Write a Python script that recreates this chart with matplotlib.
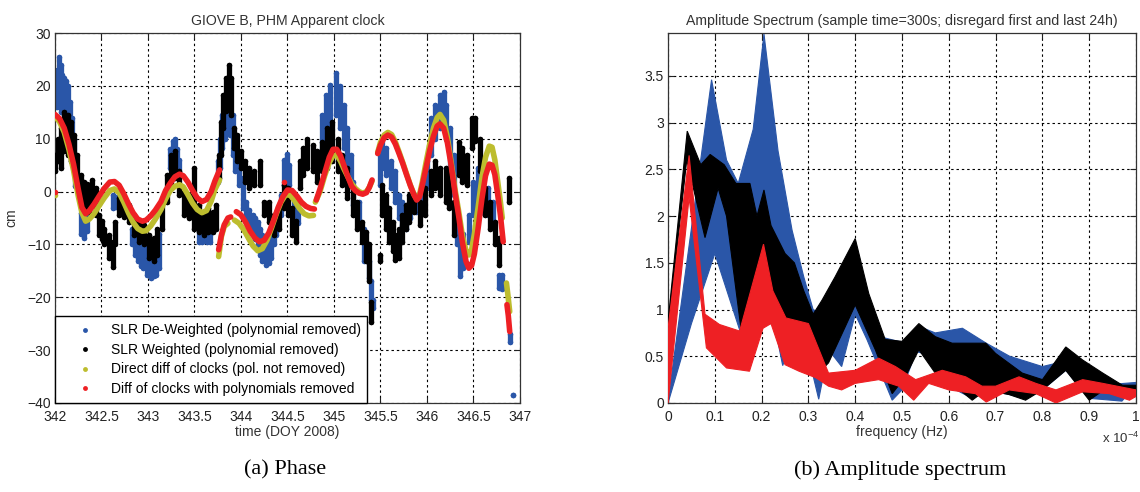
import numpy as np
import matplotlib
matplotlib.use("Agg")
import matplotlib.pyplot as plt
from matplotlib.lines import Line2D

plt.rcParams['font.family'] = ['Liberation Sans', 'DejaVu Sans']
plt.rcParams['mathtext.fontset'] = 'custom'
plt.rcParams['mathtext.rm'] = 'Liberation Sans'
plt.rcParams['mathtext.default'] = 'regular'

# ---------------- Phase: apparent clock of GIOVE-B (cm vs DOY 2008) ----------------
# SLR de-weighted residuals: (day, low, high) of the point cloud
slr_deweighted = [
    (342.00, 16, 21), (342.02, 16, 23), (342.04, 17, 25.5), (342.06, 15, 24), (342.08, 15, 22),
    (342.10, 14, 21.5), (342.12, 15, 21), (342.14, 12, 20), (342.16, 10, 17), (342.18, 7, 14),
    (342.20, 4, 10), (342.22, 1, 6), (342.28, -8, -4), (342.31, -8.8, -4), (342.34, -7.5, -4.5),
    (342.62, -3.2, -0.6), (342.66, -3, -1), (342.70, -3.2, -1), (342.74, -3.2, -1.2),
    (342.83, -10, -7), (342.86, -12, -7.5), (342.89, -13.2, -8.2), (342.92, -14, -9),
    (342.95, -14.5, -9.5), (342.99, -15.8, -10.7), (343.03, -16.4, -13.2), (343.06, -16, -12.5),
    (343.09, -15.8, -12.6), (343.12, -14.5, -8), (343.24, 4.4, 8), (343.27, 4.4, 9.5),
    (343.29, 5, 10), (343.31, 4.4, 8), (343.33, 3.5, 6), (343.55, -9.5, -4.4), (343.58, -9.5, -5),
    (343.61, -9, -5), (343.64, -9.5, -6), (343.67, -9.5, -7), (343.75, 1.9, 5.7), (343.775, 4.4, 10),
    (343.80, 8.2, 14.5), (343.83, 10, 18.3), (343.86, 12, 19.5), (343.88, 10.7, 18.3),
    (343.91, 6.9, 14.5), (343.94, 3.8, 10), (343.975, 1.3, 5.7), (344.02, -3.2, 2.5),
    (344.05, -5.7, -1.9), (344.09, -6.5, -3.5), (344.125, -7.6, -4.4), (344.15, -9, -5),
    (344.18, -10.7, -5.7), (344.21, -12, -7), (344.23, -13.2, -8.2), (344.27, -13.9, -10),
    (344.30, -13.5, -9), (344.32, -12.6, -7), (344.35, -10, -5.5), (344.375, -8.2, -4.4),
    (344.43, -4.4, -0.6), (344.46, 1.3, 6), (344.49, 1.5, 7.2), (344.52, 1.3, 5),
    (344.57, -5.7, -1), (344.61, -6, -2), (344.875, 6.9, 14.5), (344.91, 9.4, 18.3),
    (344.96, 12, 20.2), (345.02, 14.5, 22.4), (345.07, 12, 20), (345.11, 8.2, 16.4),
    (345.14, 4.4, 12), (345.18, 1.3, 6.9), (345.21, -2.5, 1.9), (345.27, -5.7, -1.9),
    (345.32, -13.2, -7), (345.36, -13, -10), (345.38, -16.4, -13.2), (345.40, -20.5, -17),
    (345.42, -22, -20.5), (345.49, 1.3, 6.9), (345.52, 4.4, 10), (345.56, 3.2, 8.2),
    (345.61, 0.6, 5.7), (345.66, -1.9, 3.8), (345.70, -5, -0.6), (345.73, -6.3, -1.9),
    (345.77, -7, -3.2), (345.82, -5, -1.3), (345.88, -3.8, -0.6), (345.95, -3.5, 0.6),
    (346.00, 0.6, 5.7), (346.04, 6.9, 13.9), (346.09, 10, 16.4), (346.14, 12, 18.3),
    (346.18, 12.6, 18.9), (346.21, 10, 16.4), (346.25, 4.4, 12), (346.29, -0.6, 6.9),
    (346.32, -10, -4.4), (346.36, -16, -9.5), (346.39, -14.5, -8), (346.45, -9.5, -4.4),
    (346.50, -4.4, 1.9), (346.55, -1.9, 4.4), (346.61, -4, 0.6), (346.66, -4.4, 0.6),
    (346.71, -6, -2), (346.77, -18.3, -15.8), (346.81, -18.5, -15.8), (346.89, -28.4, -27),
    (346.93, -38.4, -38.4),
]

# SLR weighted residuals: (day, low, high)
slr_weighted = [
    (342.00, 3.8, 6.9), (342.03, 5.7, 10), (342.06, 4.4, 12), (342.10, 7.6, 15), (342.14, 6.9, 14.5),
    (342.17, 5.7, 13.2), (342.21, 3.8, 10.7), (342.24, 0.6, 6.9), (342.28, -2.5, 3.2),
    (342.31, -3.2, 1.9), (342.34, -3, 1.5), (342.37, -3.8, 1.2), (342.40, -1.9, 2.2),
    (342.44, -4.4, 0.6), (342.475, -8.2, -4.4), (342.51, -9, -5.5), (342.53, -10, -7),
    (342.58, -12.6, -8.2), (342.62, -14.2, -9.5), (342.65, -10, -5.7), (342.69, -4.4, -1.3),
    (342.74, -4.8, -1.9), (342.80, -5.7, -2.5), (342.85, -8.2, -4.4), (342.90, -9.5, -5.7),
    (342.96, -10, -6.3), (343.01, -12.6, -8.2), (343.06, -13.2, -8.8), (343.10, -12, -7),
    (343.15, -7, -1.9), (343.21, -1.9, 3.2), (343.25, 1.3, 6.9), (343.29, 2.5, 7.6),
    (343.33, -0.6, 3.8), (343.39, -4.4, 0), (343.44, -5, -0.6), (343.49, -7, 4.4),
    (343.55, -7.6, -2.5), (343.60, -8.2, -3.8), (343.65, -7.6, -3.2), (343.70, -7.6, -3.8),
    (343.73, -7, -2.5), (343.76, 2.5, 6.9), (343.79, 6.9, 13.2), (343.81, 12, 18.3),
    (343.84, 15.2, 21.4), (343.87, 18.3, 23.9), (343.89, 14.5, 21.4), (343.93, 8.2, 12),
    (343.96, 5.7, 10.7), (344.00, 4.4, 7.6), (344.04, 1.9, 5.7), (344.09, 0.6, 4.4),
    (344.14, 1.3, 3.8), (344.20, 1.3, 5.7), (344.25, -4.4, -1.9), (344.30, -5.7, -1.9),
    (344.36, -8.2, -4.4), (344.41, -7, -3.2), (344.46, -3.2, 1.3), (344.51, -4.4, 0.6),
    (344.55, -8.2, -3.2), (344.59, -9.5, -5.5), (344.63, 0.6, 5.7), (344.67, 3.2, 8.2),
    (344.71, 4.4, 10), (344.77, 3.8, 8.8), (344.82, 1.9, 7.6), (344.875, 3.8, 9.4),
    (344.93, 4.4, 12), (344.98, 5.7, 13.2), (345.04, 3.8, 10), (345.09, 1.3, 6.9),
    (345.14, -1.2, 4.4), (345.20, -4.4, 0.6), (345.25, -7, -1.9), (345.30, -9.5, -5.7),
    (345.34, -13.2, -7.6), (345.38, -17, -10), (345.40, -24.6, -20.8), (345.49, -13.2, -12),
    (345.52, -4.4, 1.3), (345.56, -7, -0.6), (345.59, -9.5, -3.2), (345.63, -11.3, -5.7),
    (345.66, -12.9, -8.2), (345.70, -12.6, -7), (345.73, -9.5, -4.4), (345.77, -7, -2.5),
    (345.81, -5.7, -0.6), (345.86, -3.8, -0.6), (345.93, -6.3, -1.9), (345.98, -4.4, 0.6),
    (346.04, -0.6, 3.8), (346.09, 0.6, 5.7), (346.14, -0.6, 4.4), (346.20, -1.9, 4.4),
    (346.24, -3.2, 3.8), (346.29, -8.2, -1.9), (346.34, 3.2, 9.4), (346.38, 1.9, 8.2),
    (346.43, 1.3, 6.9), (346.48, 8.2, 13.9), (346.52, 9.5, 13.9), (346.57, 3.8, 10),
    (346.62, -4.4, 0.6), (346.68, -7, -1.9), (346.73, -10, -5.7), (346.78, -13.9, -8.8),
    (346.88, -1.9, 2.5),
]

nan = np.nan
# Direct difference of clocks (polynomial not removed); nan separates data gaps
direct_day = [342.00, 342.05, 342.10, 342.15, 342.20, 342.25, 342.29, 342.33, 342.37, 342.42,
              342.47, 342.53, 342.59, 342.64, 342.69, 342.74, 342.79, 342.84, 342.89, 342.94,
              342.98, 343.03, 343.08, 343.14, 343.19, 343.24, 343.29, 343.34, 343.38, 343.43,
              343.48, 343.53, 343.58, 343.63, 343.68, 343.72, 343.77, nan,
              343.76, 343.79, 343.82, 343.86, nan,
              343.93, 343.98, 344.03, 344.08, 344.13, 344.18, 344.23, 344.28, 344.33, 344.38,
              344.43, 344.48, 344.53, 344.58, 344.63, 344.68, 344.73, 344.78, nan,
              344.80, 344.85, 344.90, 344.95, 344.99, 345.03, 345.07, 345.11, 345.15, 345.19,
              345.23, 345.27, 345.31, 345.35, 345.38, 345.41, nan,
              345.47, 345.50, 345.54, 345.58, 345.62, 345.66, 345.70, 345.74, 345.78, 345.82,
              345.86, 345.89, 345.92, 345.95, 345.99, 346.03, 346.07, 346.11, 346.14, 346.18,
              346.22, 346.26, 346.30, 346.34, 346.38, 346.42, 346.45, 346.48, 346.51, 346.55,
              346.59, 346.63, 346.67, 346.70, 346.73, 346.76, 346.79, 346.81, nan,
              346.855, 346.87, 346.89]
direct_cm = [14.2, 13.2, 11.2, 8.0, 4.0, -0.8, -4.0, -5.6, -5.2, -4.2,
             -2.8, -1.2, 0.2, 0.5, -0.2, -2.0, -4.0, -5.8, -7.0, -7.5,
             -7.4, -6.5, -5.2, -3.4, -1.4, 0.2, 1.0, 1.3, 0.9, -0.6,
             -2.2, -3.4, -4.0, -3.6, -1.8, 0.4, 2.2, nan,
             -12.3, -8.5, -6.6, -6.0, nan,
             -5.4, -6.0, -7.2, -8.8, -10.3, -11.2, -10.8, -9.2, -6.8, -4.2,
             -2.0, -0.6, -0.7, -1.8, -3.2, -4.2, -4.6, -4.5, nan,
             -2.0, 0.0, 3.0, 5.5, 6.8, 6.9, 5.8, 4.2, 2.8, 1.5,
             0.6, 0.0, -0.3, 0.0, 0.8, 2.0, nan,
             7.4, 9.3, 10.7, 11.2, 10.8, 9.4, 7.5, 5.5, 3.4, 1.3,
             -0.5, -1.4, -0.6, 1.8, 5.5, 9.0, 12.0, 14.0, 14.6, 13.5,
             10.2, 5.6, 0.6, -3.6, -8.2, -11.2, -12.0, -11.0, -8.0, -3.0,
             2.5, 6.5, 8.6, 8.4, 6.0, 2.0, -2.0, -5.0, nan,
             -17.3, -19.5, -22.7]

# Difference of clocks with polynomials removed
poly_day = [342.00, 342.05, 342.10, 342.15, 342.20, 342.25, 342.29, 342.33, 342.37, 342.42,
            342.47, 342.53, 342.59, 342.64, 342.69, 342.74, 342.79, 342.84, 342.89, 342.94,
            342.98, 343.03, 343.08, 343.14, 343.19, 343.24, 343.29, 343.34, 343.38, 343.43,
            343.48, 343.53, 343.58, 343.63, 343.68, 343.72, 343.77, nan,
            343.76, 343.79, 343.82, 343.86, 343.89, nan,
            343.95, 344.00, 344.05, 344.10, 344.15, 344.20, 344.25, 344.30, 344.35, 344.40,
            344.45, 344.50, 344.55, 344.60, 344.65, 344.70, 344.75, 344.79, nan,
            344.81, 344.85, 344.90, 344.95, 344.99, 345.03, 345.07, 345.11, 345.15, 345.19,
            345.23, 345.27, 345.31, 345.35, 345.38, 345.41, nan,
            345.47, 345.50, 345.54, 345.58, 345.62, 345.66, 345.70, 345.74, 345.78, 345.82,
            345.86, 345.89, 345.92, 345.95, 345.99, 346.03, 346.07, 346.11, 346.14, 346.18,
            346.22, 346.26, 346.30, 346.34, 346.38, 346.42, 346.45, 346.48, 346.51, 346.55,
            346.59, 346.63, 346.67, 346.70, 346.73, 346.76, 346.79, 346.82, nan,
            346.86, 346.875, 346.89]
poly_cm = [14.6, 13.8, 12.0, 9.0, 5.2, 0.5, -3.0, -4.2, -3.6, -2.4,
           -1.0, 0.6, 1.8, 1.9, 1.2, -0.4, -2.3, -4.0, -5.2, -5.6,
           -5.4, -4.6, -3.5, -1.9, 0.2, 1.6, 2.8, 3.3, 3.0, 1.8,
           0.2, -1.2, -1.9, -1.5, 0.0, 2.0, 4.1, nan,
           -11.0, -8.2, -6.3, -5.0, -4.8, nan,
           -3.8, -4.4, -5.8, -7.5, -8.8, -9.5, -9.2, -7.8, -5.5, -3.0,
           -1.0, 0.3, 0.2, -0.8, -2.0, -2.8, -3.2, -3.3, nan,
           -1.6, 0.5, 3.5, 6.5, 8.0, 8.0, 6.8, 4.8, 2.8, 1.0,
           0.2, -0.3, -0.5, -0.2, 0.8, 2.2, nan,
           7.2, 8.8, 10.2, 10.7, 10.3, 9.0, 7.2, 5.3, 3.2, 1.2,
           -0.6, -1.6, -1.0, 1.2, 4.5, 7.8, 10.5, 12.4, 12.8, 12.0,
           9.2, 5.0, 0.0, -4.5, -9.5, -13.2, -14.5, -14.0, -11.8, -7.0,
           -1.5, 3.0, 5.2, 5.0, 3.2, -0.5, -4.5, -9.5, nan,
           -21.4, -23.5, -26.5]

# single isolated samples
direct_single = [(342.00, -0.6)]
poly_single = [(342.00, 0.0), (344.46, 1.9)]

legend_labels = ["SLR De-Weighted (polynomial removed)",
                 "SLR Weighted (polynomial removed)",
                 "Direct diff of clocks (pol. not removed)",
                 "Diff of clocks with polynomials removed"]

# ---------------- Amplitude spectrum bands (frequency in 1e-4 Hz) ----------------
blue_upper = [(0, 0.02), (0.093, 3.46), (0.125, 2.6), (0.15, 2.35), (0.182, 2.93), (0.205, 3.95),
              (0.235, 2.7), (0.265, 1.85), (0.29, 1.35), (0.31, 1.0), (0.33, 0.95), (0.35, 1.28),
              (0.375, 1.46), (0.4, 1.7), (0.43, 1.1), (0.46, 0.7), (0.5, 0.65), (0.536, 0.82),
              (0.571, 0.75), (0.629, 0.8), (0.68, 0.64), (0.73, 0.5), (0.8, 0.39), (0.85, 0.45),
              (0.9, 0.3), (0.95, 0.2), (1.0, 0.22)]
blue_lower = [(0, 0.0), (0.05, 0.85), (0.1, 1.6), (0.157, 0.72), (0.2, 1.7), (0.225, 0.9),
              (0.245, 0.4), (0.27, 0.75), (0.3, 0.5), (0.322, 0.04), (0.343, 0.57), (0.371, 0.39),
              (0.4, 0.95), (0.425, 0.68), (0.479, 0.03), (0.5, 0.14), (0.53, 0.55), (0.57, 0.5),
              (0.6, 0.18), (0.65, 0.05), (0.68, 0.14), (0.73, 0.09), (0.76, 0.05), (0.8, 0.14),
              (0.85, 0.35), (0.9, 0.05), (0.97, 0.02), (1.0, 0.2)]

black_upper = [(0, 0.87), (0.041, 2.91), (0.07, 2.55), (0.09, 2.66), (0.12, 2.55), (0.145, 2.35),
               (0.175, 2.35), (0.19, 2.0), (0.205, 2.28), (0.22, 1.9), (0.25, 1.6), (0.27, 1.5),
               (0.29, 1.2), (0.31, 0.95), (0.329, 1.1), (0.357, 1.35), (0.4, 1.76), (0.429, 1.17),
               (0.464, 0.68), (0.5, 0.66), (0.536, 0.85), (0.571, 0.71), (0.607, 0.64),
               (0.679, 0.64), (0.7, 0.53), (0.757, 0.32), (0.8, 0.25), (0.85, 0.6), (0.886, 0.46),
               (0.929, 0.32), (0.971, 0.19), (1.0, 0.19)]
black_lower = [(0, 0.78), (0.04, 2.6), (0.079, 1.77), (0.107, 2.3), (0.125, 2.0), (0.157, 0.75),
               (0.18, 1.2), (0.2, 1.5), (0.217, 0.85), (0.235, 0.85), (0.267, 0.875), (0.3, 0.6),
               (0.314, 0.28), (0.343, 0.43), (0.379, 0.82), (0.4, 1.05), (0.443, 0.57),
               (0.479, 0.1), (0.507, 0.28), (0.536, 0.57), (0.571, 0.32), (0.614, 0.18),
               (0.65, 0.03), (0.679, 0.14), (0.729, 0.09), (0.764, 0.03), (0.8, 0.14),
               (0.85, 0.35), (0.9, 0.03), (0.943, 0.18), (1.0, 0.14)]

red_upper = [(0, 0.8), (0.045, 2.65), (0.079, 0.95), (0.11, 0.84), (0.153, 0.77), (0.204, 1.7),
             (0.224, 1.2), (0.252, 0.91), (0.28, 0.875), (0.3, 0.85), (0.343, 0.32), (0.4, 0.35),
             (0.45, 0.48), (0.486, 0.39), (0.529, 0.25), (0.586, 0.35), (0.636, 0.28),
             (0.671, 0.18), (0.7, 0.18), (0.75, 0.28), (0.786, 0.21), (0.829, 0.14),
             (0.886, 0.25), (0.929, 0.21), (1.0, 0.14)]
red_lower = [(0, 0.0), (0.045, 2.2), (0.082, 0.59), (0.125, 0.375), (0.174, 0.34), (0.203, 0.8),
             (0.22, 0.85), (0.25, 0.41), (0.28, 0.34), (0.316, 0.27), (0.343, 0.18),
             (0.371, 0.14), (0.4, 0.21), (0.45, 0.25), (0.493, 0.18), (0.525, 0.03),
             (0.557, 0.21), (0.6, 0.14), (0.657, 0.1), (0.68, 0.01), (0.729, 0.14),
             (0.786, 0.1), (0.829, 0.0), (0.886, 0.12), (0.943, 0.1), (0.986, 0.03), (1.0, 0.07)]

C_BLUE = '#2a56a8'
C_BLACK = '#000000'
C_YEL = '#bdbd2e'
C_RED = '#ee2024'
C_TEXT = '#333333'

fig = plt.figure(figsize=(11.4, 4.92), dpi=100)
ax1 = fig.add_axes([0.0482, 0.1809, 0.4079, 0.752])
ax2 = fig.add_axes([0.586, 0.1809, 0.4105, 0.752])

grid_kw = dict(color='black', linestyle=(0, (2.2, 2.6)), linewidth=0.8)


def style_axes(ax):
    ax.tick_params(direction='in', top=True, right=True, length=4, width=0.8,
                   labelsize=10, colors='#222222')
    ax.tick_params(axis='x', pad=5)
    ax.tick_params(axis='y', pad=3)
    for s in ax.spines.values():
        s.set_linewidth(0.9)
        s.set_color(C_TEXT)
    ax.grid(True, **grid_kw)
    ax.set_axisbelow(True)


def cloud(ax, rows, color, z):
    d, lo, hi = np.array(rows, dtype=float).T
    ax.vlines(d, lo, hi, colors=color, linewidth=3.8, capstyle='round', zorder=z)
    ax.plot(np.r_[d, d], np.r_[lo, hi], 'o', ms=4, color=color, mec='none', zorder=z)


# ---- left panel ----
cloud(ax1, slr_deweighted, C_BLUE, 2)
cloud(ax1, slr_weighted, C_BLACK, 3)
ax1.plot(direct_day, direct_cm, color=C_YEL, lw=4.0, solid_capstyle='round',
         solid_joinstyle='round', zorder=4)
ds = np.array(direct_single)
ax1.plot(ds[:, 0], ds[:, 1], 'o', ms=4, color=C_YEL, mec='none', zorder=4)
ax1.plot(poly_day, poly_cm, color=C_RED, lw=4.0, solid_capstyle='round',
         solid_joinstyle='round', zorder=5)
ps = np.array(poly_single)
ax1.plot(ps[:, 0], ps[:, 1], 'o', ms=4, color=C_RED, mec='none', zorder=5)

ax1.set_xlim(342, 347)
ax1.set_ylim(-40, 30)
ax1.set_xticks(np.arange(342, 347.01, 0.5))
ax1.set_xticklabels(['342', '342.5', '343', '343.5', '344', '344.5', '345',
                     '345.5', '346', '346.5', '347'])
ax1.set_yticks(np.arange(-40, 31, 10))
style_axes(ax1)
ax1.set_title('GIOVE B, PHM Apparent clock', fontsize=10.2, color=C_TEXT, pad=6)
ax1.set_xlabel('time (DOY 2008)', fontsize=10, color=C_TEXT, labelpad=1)
ax1.set_ylabel('cm', fontsize=10, color=C_TEXT, labelpad=6)

handles = [Line2D([], [], ls='none', marker='o', ms=3.5, mec='none', color=c)
           for c in (C_BLUE, C_BLACK, C_YEL, C_RED)]
leg = ax1.legend(handles, legend_labels, loc='lower left', bbox_to_anchor=(0, 0),
                 borderaxespad=0, fancybox=False, framealpha=1, edgecolor='black',
                 fontsize=10, handlelength=3.3, handletextpad=0.2, labelspacing=0.4,
                 borderpad=0.5)
leg.get_frame().set_linewidth(1.0)
leg.set_zorder(10)

# ---- right panel ----
for up, lo, c, z in ((blue_upper, blue_lower, C_BLUE, 2),
                     (black_upper, black_lower, C_BLACK, 3),
                     (red_upper, red_lower, C_RED, 4)):
    u = np.array(up)
    l = np.array(lo)
    xs = np.r_[u[:, 0], l[::-1, 0]]
    ys = np.r_[u[:, 1], l[::-1, 1]]
    ax2.fill(xs, ys, color=c, lw=0.8, zorder=z)

ax2.set_xlim(0, 1.0)
ax2.set_ylim(0, 3.96)
ax2.set_xticks(np.arange(0, 1.01, 0.1))
ax2.set_xticklabels(['0', '0.1', '0.2', '0.3', '0.4', '0.5', '0.6', '0.7', '0.8', '0.9', '1'])
ax2.set_yticks(np.arange(0, 3.6, 0.5))
ax2.set_yticklabels(['0', '0.5', '1', '1.5', '2', '2.5', '3', '3.5'])
style_axes(ax2)
ax2.set_title('Amplitude Spectrum (sample time=300s; disregard first and last 24h)',
              fontsize=10.2, color=C_TEXT, pad=6)
ax2.set_xlabel('frequency (Hz)', fontsize=10, color=C_TEXT, labelpad=1)
fig.text(1139 / 1140, 1 - 438 / 492, r'x 10$^{-4}$', fontsize=9.5, color=C_TEXT,
         ha='right', va='center')

# ---- sub-captions ----
fig.text(285 / 1140, 1 - 470 / 492, '(a) Phase', ha='center', va='center',
         family='Liberation Serif', fontsize=16)
fig.text(900 / 1140, 1 - 470 / 492, '(b) Amplitude spectrum', ha='center', va='center',
         family='Liberation Serif', fontsize=16)

fig.savefig('out.png', dpi=100)
